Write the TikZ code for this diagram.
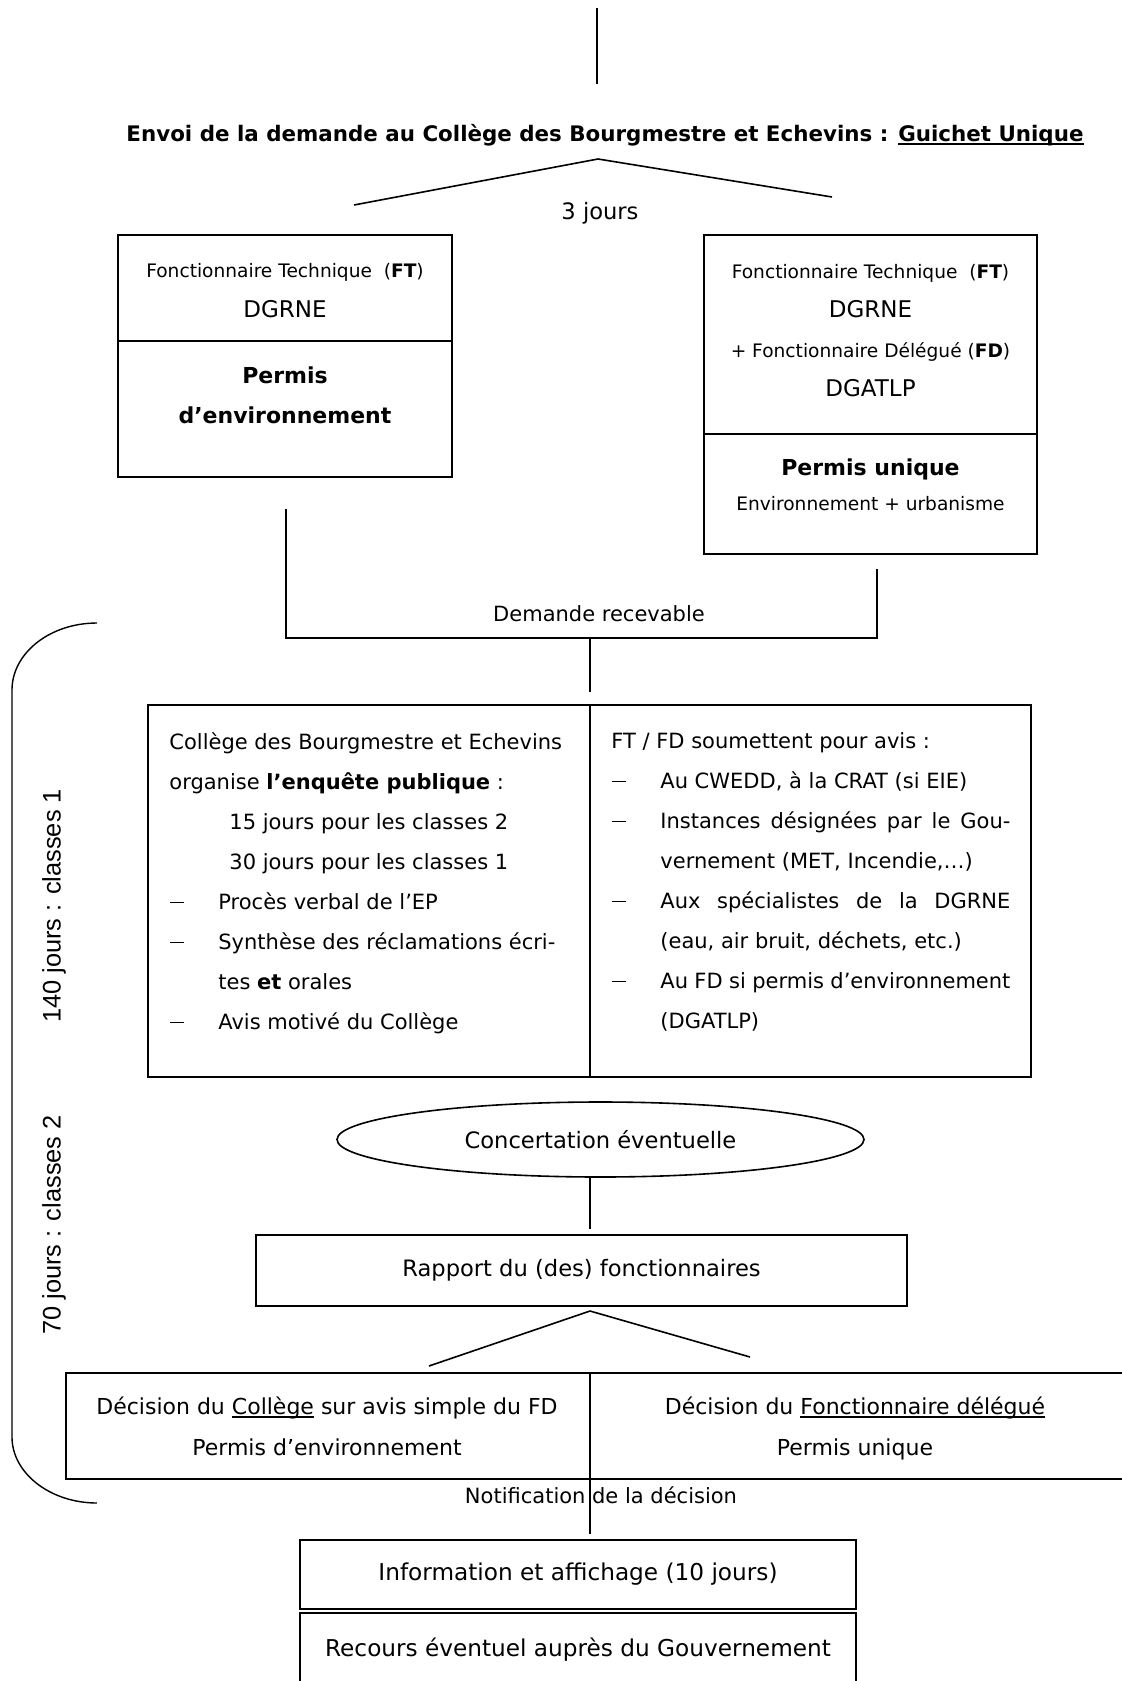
\documentclass[tikz,border=0pt]{standalone}
\usepackage{fontspec}
\setmainfont{DejaVu Sans}
\newfontfamily\arialfont{Liberation Sans}
\usepackage{tikz}
\usetikzlibrary{shapes.geometric, calc}

\newcommand{\fpetit}{\fontsize{9.3}{11}\selectfont}
\newsavebox{\soulbox}
\newcommand{\souligne}[1]{\sbox{\soulbox}{#1}\rlap{\rule[-1.8pt]{\wd\soulbox}{0.8pt}}\usebox{\soulbox}}
\newcommand{\trait}{\hspace*{0.5pt}\rule[3pt]{7pt}{0.6pt}}
\newcommand{\tiret}[1]{\makebox[24.5pt][l]{\trait}#1}
\newcommand{\tiretj}[1]{\makebox[24.5pt][l]{\trait}\makebox[175pt][s]{#1}}
\newcommand{\retrait}[1]{\hspace*{#1}}

\tikzset{
    cadre/.style={rectangle, draw, line width=0.8pt, inner sep=0pt, align=center, font=\fontsize{11.3}{20}\selectfont},
    bulle/.style={ellipse, draw, line width=0.8pt, inner sep=0pt, font=\fontsize{11.3}{14}\selectfont},
    texte/.style={inner sep=0pt, align=center, font=\fontsize{11.3}{20}\selectfont},
    titre/.style={inner sep=0pt, font=\bfseries\fontsize{10.7}{13}\selectfont},
    liste/.style={inner sep=0pt, align=left, anchor=north west, font=\fontsize{10.5}{20}\selectfont},
    duree/.style={inner sep=0pt, rotate=90, font=\arialfont\fontsize{12.7}{15}\selectfont},
    lien/.style={line width=0.8pt},
}

\begin{document}
\begin{tikzpicture}[x=0.5pt, y=-0.5pt]
\useasboundingbox (0,0) rectangle (1121,1681);

% Axe vertical commun
\coordinate (axe) at (590,0);

% Envoi de la demande
\coordinate (debut) at (597,8);
\coordinate (debutfin) at (597,84);
\draw[lien] (debut) -- (debutfin);
\node[titre] (envoi) at (605,135) {Envoi de la demande au Collège des Bourgmestre et Echevins : \souligne{Guichet Unique}};

% Repartition vers les fonctionnaires
\coordinate (fourche1) at (598,159);
\coordinate (fourche1g) at (354,205);
\coordinate (fourche1d) at (832,197);
\draw[lien] (fourche1g) -- (fourche1) -- (fourche1d);
\node[texte] (troisjours) at (600,213) {3 jours};

% Permis d'environnement
\node[cadre, minimum width=167pt, minimum height=53pt] (ftG) at (285,288) {};
\node[texte, font=\fontsize{11.5}{20}\selectfont] (ftGtxt) at (285,291) {{\fpetit Fonctionnaire Technique\ \ (\textbf{FT})}\\DGRNE};
\node[cadre, minimum width=167pt, minimum height=68pt] (permisG) at (285,409) {};
\node[texte, font=\bfseries\fontsize{11}{20}\selectfont] (permisGtxt) at (285,395) {Permis\\d’environnement};

% Permis unique
\node[cadre, minimum width=166.5pt, minimum height=99.5pt] (ftD) at (870.5,334.5) {};
\node[texte, font=\fontsize{11.5}{19.7}\selectfont] (ftDtxt) at (870.5,330.5) {{\fpetit Fonctionnaire Technique\ \ (\textbf{FT})}\\DGRNE\\{\fpetit + Fonctionnaire Délégué (\textbf{FD})}\\DGATLP};
\node[cadre, minimum width=166.5pt, minimum height=60pt] (permisD) at (870.5,494) {};
\node[texte, font=\fontsize{11}{17.5}\selectfont] (permisDtxt) at (870.5,485) {\textbf{Permis unique}\\{\fpetit Environnement + urbanisme}};

% Recevabilite
\coordinate (gauchebas) at (286,509);
\coordinate (droitebas) at (877,569);
\coordinate (jonction) at (590,638);
\coordinate (jonctionfin) at (590,692);
\draw[lien] (gauchebas) |- (jonction) -| (droitebas);
\draw[lien] (jonction) -- (jonctionfin);
\node[texte, font=\fontsize{10.5}{13}\selectfont] (recevable) at (599,614) {Demande recevable};

% Enquete publique et avis
\node[cadre, minimum width=441.5pt, minimum height=186pt] (enquete) at (589.5,891) {};
\draw[lien] (enquete.north -| axe) -- (enquete.south -| axe);
\node[liste] (enqueteG) at (169,732) {Collège des Bourgmestre et Echevins\\
organise \textbf{l’enquête publique} :\\
\retrait{30pt}15 jours pour les classes 2\\
\retrait{30pt}30 jours pour les classes 1\\
\tiret{Procès verbal de l’EP}\\
\tiret{Synthèse des réclamations écri-}\\
\retrait{24.5pt}tes \textbf{et} orales\\
\tiret{Avis motivé du Collège}};
\node[liste] (enqueteD) at (611,732) {FT / FD soumettent pour avis :\\
\tiret{Au CWEDD, à la CRAT (si EIE)}\\
\tiretj{Instances désignées par le Gou-}\\
\retrait{24.5pt}vernement (MET, Incendie,…)\\
\tiretj{Aux spécialistes de la DGRNE}\\
\retrait{24.5pt}(eau, air bruit, déchets, etc.)\\
\tiretj{Au FD si permis d’environnement}\\
\retrait{24.5pt}(DGATLP)};

% Concertation et rapport
\node[bulle, minimum width=263.5pt, minimum height=37.5pt] (concert) at (600.5,1139.5) {Concertation éventuelle};
\node[cadre, minimum width=325.5pt, minimum height=35.5pt] (rapport) at (581.5,1270.5) {Rapport du (des) fonctionnaires};
\draw[lien] (concert.south -| axe) -- ($(rapport.north -| axe)+(0,-5)$);

% Decisions
\coordinate (fourche2) at (590,1311);
\coordinate (fourche2g) at (429,1366);
\coordinate (fourche2d) at (750,1357);
\draw[lien] (fourche2g) -- (fourche2) -- (fourche2d);
\node[cadre, minimum width=529pt, minimum height=53pt] (decision) at (595,1426) {};
\node[texte, font=\fontsize{11}{20.5}\selectfont] (decisionG) at (327,1426) {Décision du \souligne{Collège} sur avis simple du FD\\Permis d’environnement};
\node[texte, font=\fontsize{11}{20.5}\selectfont] (decisionD) at (855,1428) {Décision du \souligne{Fonctionnaire délégué}\\Permis unique};
\coordinate (notiffin) at (590,1534);
\draw[lien] (decision.north -| axe) -- (notiffin);
\node[texte, font=\fontsize{10.5}{13}\selectfont] (notif) at (601,1495) {Notification de la décision};

% Suites de la decision
\node[cadre, minimum width=278pt, minimum height=34.5pt, font=\fontsize{11.6}{14}\selectfont] (info) at (578,1574.5) {Information et affichage (10 jours)};
\node[cadre, minimum width=278pt, minimum height=37pt, font=\fontsize{11.6}{14}\selectfont] (recours) at (578,1650) {Recours éventuel auprès du Gouvernement};

% Delais
\coordinate (crochethaut) at (97,623);
\coordinate (crochetbas) at (97,1503);
\draw[line width=0.7pt] (crochethaut) .. controls (50,623) and (12,653) .. (12,690) -- (12,1437) .. controls (12,1473) and (50,1503) .. (crochetbas);
\node[duree] (duree1) at (54,906) {140 jours : classes 1};
\node[duree] (duree2) at (54,1225) {70 jours : classes 2};

\end{tikzpicture}
\end{document}
